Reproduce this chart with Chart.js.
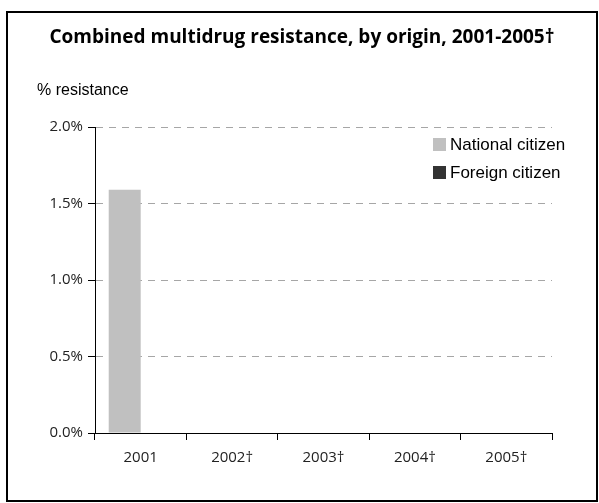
<!DOCTYPE html>
<html>
<head>
<meta charset="utf-8">
<script src="https://cdn.jsdelivr.net/npm/chart.js@4.4.0/dist/chart.umd.min.js"></script>
<style>
  html, body { margin: 0; padding: 0; background: #fff; overflow: hidden; }
  #wrap { position: relative; width: 599px; height: 503px; overflow: hidden; }
  #frame { position: absolute; left: 6px; top: 11px; width: 588px; height: 487px; border: 2px solid #000; }
  #title { position: absolute; left: 0; width: 604px; top: 23px; text-align: center;
           font: bold 19px "Open Sans", sans-serif; color: #000; }
  #ylabel { position: absolute; left: 37px; top: 81px; font: 16px "Liberation Sans", Arial, sans-serif; color: #000; }
  #legend { position: absolute; left: 433px; top: 135px; font: 17px "Liberation Sans", Arial, sans-serif; color: #000; }
  #legend div { height: 28px; line-height: 20px; white-space: nowrap; }
  #legend span { display: inline-block; width: 13px; height: 13px; margin-right: 4px; vertical-align: -1px; }
  canvas { position: absolute; left: 0; top: 0; }
</style>
</head>
<body>
<div id="wrap">
  <div id="frame"></div>
  <canvas id="chart" width="599" height="503"></canvas>
  <div id="title">Combined multidrug resistance, by origin, 2001-2005†</div>
  <div id="ylabel">% resistance</div>
  <div id="legend"></div>
</div>
<script>
{
  const years = ['2001', '2002†', '2003†', '2004†', '2005†'];
  const national = [1.59, 0, 0, 0, 0];
  const foreign = [0, 0, 0, 0, 0];
  const seriesNames = ['National citizen', 'Foreign citizen'];
  const seriesColors = ['#c0c0c0', '#333333'];

  // legend sits inside the plot, so build it by hand
  const legendEl = document.getElementById('legend');
  seriesNames.forEach((name, i) => {
    const row = document.createElement('div');
    row.innerHTML = '<span style="background:' + seriesColors[i] + '"></span>' + name;
    legendEl.appendChild(row);
  });

  const tickFont = { family: '"Open Sans", sans-serif', size: 15 };

  new Chart(document.getElementById('chart'), {
    type: 'bar',
    data: {
      labels: years,
      datasets: [
        { label: seriesNames[0], data: national, backgroundColor: seriesColors[0] },
        { label: seriesNames[1], data: foreign, backgroundColor: seriesColors[1] }
      ]
    },
    options: {
      responsive: false,
      animation: false,
      layout: { padding: { top: 127, right: 47, left: 0, bottom: 0 } },
      plugins: { legend: { display: false }, tooltip: { enabled: false } },
      datasets: { bar: { categoryPercentage: 0.7, barPercentage: 1.0 } },
      scales: {
        x: {
          afterFit: s => { s.height = 70; },
          grid: { drawOnChartArea: false, tickLength: 7, tickColor: '#000' },
          border: { color: '#000', width: 1 },
          ticks: { color: '#222', font: tickFont, padding: 9 }
        },
        y: {
          min: 0, max: 2,
          afterFit: s => { s.width = 95; },
          grid: { color: '#a6a6a6', tickLength: 7, tickColor: '#000' },
          border: { color: '#000', width: 1, dash: [7, 6] },
          ticks: { stepSize: 0.5, color: '#222', font: tickFont, padding: 5,
                   callback: v => v.toFixed(1) + '%' }
        }
      }
    }
  });
}
</script>
</body>
</html>
